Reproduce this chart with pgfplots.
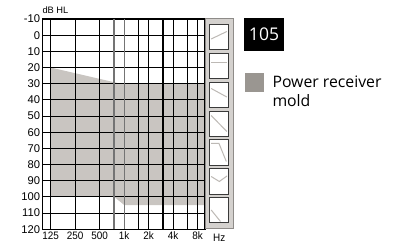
\documentclass[border=0pt]{standalone}
\usepackage{fontspec}
\usepackage{pgfplots}
\pgfplotsset{compat=1.18}
\setmainfont{Liberation Sans}
\newfontfamily\axfont{Liberation Sans}
\newfontfamily\narrowfont[FakeStretch=0.92]{Liberation Sans}
\newfontfamily\legfont{Open Sans}
\definecolor{areagray}{HTML}{C9C5C1}
\definecolor{leggray}{HTML}{9A9691}
\definecolor{panelfill}{HTML}{D4D1CE}
\definecolor{panelborder}{HTML}{8E8B88}
\definecolor{boxborder}{HTML}{3A3A3A}
\definecolor{iconline}{HTML}{BDB9B5}
\definecolor{midgray}{HTML}{747474}
\begin{document}
\begin{tikzpicture}[x=1pt,y=1pt]
\useasboundingbox (0,0) rectangle (402,245);
\begin{axis}[
  at={(42.7pt,15.7pt)}, anchor=south west,
  scale only axis, width=162.3pt, height=210.3pt,
  xmin=-0.327, xmax=6.3, ymin=-10, ymax=120,
  y dir=reverse,
  axis on top,
  axis line style={black, line width=1.1pt},
  ytick={-10,0,10,20,30,40,50,60,70,80,90,100,110,120},
  yticklabels={-10,0,10,20,30,40,50,60,70,80,90,100,110,120},
  xtick={0,1,2,3.585,4,4.585,5,5.585,6},
  xticklabels={125,250,500,,2k,,4k,,8k},
  extra x ticks={2.585,3},
  extra x tick labels={,1k},
  extra x tick style={major grid style={draw=midgray, line width=1.1pt}},
  major tick length=0pt,
  grid=major,
  major grid style={draw=black, line width=1.1pt},
  yticklabel style={font=\axfont\fontsize{11.2}{11.2}\selectfont, inner sep=2.5pt},
  xticklabel style={font=\narrowfont\fontsize{10.8}{10.8}\selectfont, inner sep=2.5pt},
]
\addplot[fill=areagray, draw=none] coordinates {
  (0,20) (2.85,30) (6.3,30) (6.3,105) (3,105) (2.6,100) (0,100)
} -- cycle;
\end{axis}
% side panel in pixel coordinates
\begin{axis}[
  at={(205pt,16.7pt)}, anchor=south west,
  scale only axis, width=28.3pt, height=210pt,
  xmin=205, xmax=233.3, ymin=18.3, ymax=228.3,
  y dir=reverse, hide axis, clip=false,
]
\addplot[fill=panelfill, draw=panelborder, line width=1pt] coordinates {
  (205.3,18.3) (233.3,18.3) (233.3,228.3) (205.3,228.3)} -- cycle;
\addplot[fill=white, draw=boxborder, line width=0.8pt] coordinates {(209.3,24.3)(228.7,24.3)(228.7,49.7)(209.3,49.7)} -- cycle;
\addplot[fill=white, draw=boxborder, line width=0.8pt] coordinates {(209.3,53.3)(228.7,53.3)(228.7,78.7)(209.3,78.7)} -- cycle;
\addplot[fill=white, draw=boxborder, line width=0.8pt] coordinates {(209.3,82.0)(228.7,82.0)(228.7,107.3)(209.3,107.3)} -- cycle;
\addplot[fill=white, draw=boxborder, line width=0.8pt] coordinates {(209.3,111.0)(228.7,111.0)(228.7,136.5)(209.3,136.5)} -- cycle;
\addplot[fill=white, draw=boxborder, line width=0.8pt] coordinates {(209.3,139.8)(228.7,139.8)(228.7,165.2)(209.3,165.2)} -- cycle;
\addplot[fill=white, draw=boxborder, line width=0.8pt] coordinates {(209.3,168.8)(228.7,168.8)(228.7,194.0)(209.3,194.0)} -- cycle;
\addplot[fill=white, draw=boxborder, line width=0.8pt] coordinates {(209.3,197.6)(228.7,197.6)(228.7,222.8)(209.3,222.8)} -- cycle;
\addplot[draw=iconline, line width=1pt] coordinates {(211.2,39.0)(226.8,31.5)};
\addplot[draw=iconline, line width=1pt] coordinates {(211.2,63.0)(226.8,63.0)};
\addplot[draw=iconline, line width=1pt] coordinates {(211.2,88.5)(226.8,97.0)};
\addplot[draw=iconline, line width=1pt] coordinates {(211.2,115.5)(226.8,131.5)};
\addplot[draw=iconline, line width=1pt] coordinates {(211.2,143.5)(219.0,143.5)(226.3,161.5)};
\addplot[draw=iconline, line width=1pt] coordinates {(211.2,176.5)(219.3,181.5)(227.0,176.0)};
\addplot[draw=iconline, line width=1pt] coordinates {(211.2,210.0)(220.5,221.5)};
\end{axis}
\node[anchor=base west, inner sep=0pt, font=\axfont\fontsize{9.3}{9.3}\selectfont] at (42.3,231) {dB HL};
\node[font=\narrowfont\fontsize{10.8}{10.8}\selectfont, inner sep=0pt] at (219.3,7.5) {Hz};
\fill[black] (244.3,194.3) rectangle (283.7,226.7);
\node[text=white, font=\legfont\fontsize{17.5}{17.5}\selectfont, inner sep=0pt] at (264,210.5) {105};
\fill[leggray] (245,153.3) rectangle (264,172.3);
\node[anchor=base west, inner sep=0pt, font=\legfont\fontsize{15.8}{15.8}\selectfont] at (272.3,157.7) {Power receiver};
\node[anchor=base west, inner sep=0pt, font=\legfont\fontsize{15.8}{15.8}\selectfont] at (272.3,138.3) {mold};
\end{tikzpicture}
\end{document}
